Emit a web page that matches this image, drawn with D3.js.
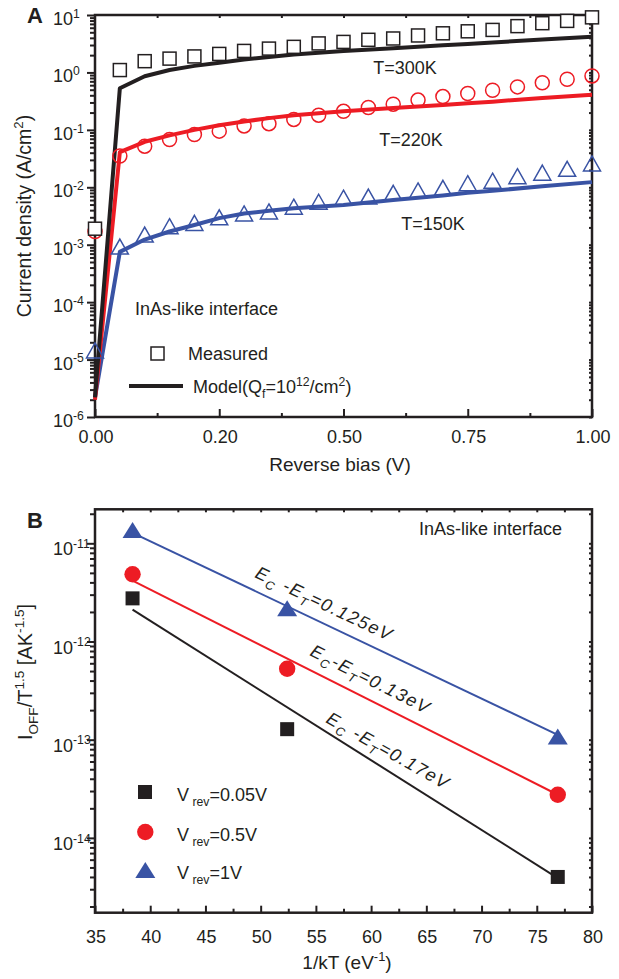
<!DOCTYPE html>
<html><head><meta charset="utf-8">
<script src="https://cdn.jsdelivr.net/npm/d3@7"></script>
<style>
body{margin:0;background:#fff}
text{font-family:"Liberation Sans",Arial,Helvetica,sans-serif;fill:#231f20}
</style>
</head><body><script>
// ---------- Panel A data ----------
const biasV = [0,0.05,0.1,0.15,0.2,0.25,0.3,0.35,0.4,0.45,0.5,0.55,0.6,0.65,0.7,0.75,0.8,0.85,0.9,0.95,1.0];
const meas300 = [1.9e-3,1.1,1.57,1.74,1.9,2.1,2.37,2.6,2.79,3.2,3.4,3.7,3.9,4.4,4.8,5.2,5.5,6.4,7.2,7.9,9.1];
const meas220 = [1.7e-3,0.035,0.052,0.068,0.083,0.095,0.117,0.128,0.152,0.18,0.21,0.245,0.28,0.33,0.38,0.43,0.49,0.56,0.66,0.76,0.87];
const meas150 = [1.44e-5,9.3e-4,1.5e-3,2.1e-3,2.4e-3,3.0e-3,3.5e-3,3.8e-3,4.6e-3,5.6e-3,6.6e-3,6.9e-3,8.0e-3,8.8e-3,9.8e-3,0.0118,0.013,0.0156,0.018,0.021,0.026];
const modelV = [0,0.05,0.1,0.15,0.2,0.25,0.3,0.35,0.4,0.5,0.6,0.7,0.75,0.8,0.9,1.0];
const model300 = [2.2e-6,0.53,0.86,1.1,1.3,1.48,1.68,1.85,2.05,2.36,2.64,2.97,3.14,3.33,3.74,4.2];
const model220 = [2e-6,0.041,0.062,0.08,0.1,0.12,0.14,0.16,0.18,0.21,0.24,0.27,0.29,0.31,0.36,0.41];
const model150 = [2.2e-6,7.5e-4,1.23e-3,1.7e-3,2.2e-3,2.9e-3,3.5e-3,3.9e-3,4.3e-3,4.9e-3,6.0e-3,7.2e-3,8.0e-3,8.7e-3,0.0104,0.0123];
const tickValsXA = [0,0.25,0.5,0.75,1.0];
const tickLabelsXA = ["0.00","0.20","0.50","0.75","1.00"];
const tickExpYA = [1,0,-1,-2,-3,-4,-5,-6];
const tempLabels = ["T=300K","T=220K","T=150K"];

// ---------- Panel B data ----------
const invKT = [38.4,52.4,76.9];
const offV005 = [2.75e-12,1.28e-13,4.0e-15];
const offV05 = [4.84e-12,5.27e-13,2.75e-14];
const offV1 = [1.37e-11,2.18e-12,1.08e-13];
const fitX = [38.4,76.9];
const fitV005 = [2.11e-12,3.9e-15];
const fitV05 = [4.17e-12,2.75e-14];
const fitV1 = [1.28e-11,1.12e-13];
const tickValsXB = [35,40,45,50,55,60,65,70,75,80];
const tickExpYB = [-11,-12,-13,-14];
const legendB = ["=0.05V","=0.5V","=1V"];
const energyLabels = ["=0.125eV","=0.13eV","=0.17eV"];

const BLACK="#231f20", RED="#ed1c24", BLUE="#3953a4";

const svg = d3.select("body").append("svg").attr("width",619).attr("height",979);

function rich(sel, parts, size){
  let cur = 0;
  parts.forEach(([t,m])=>{
    const target = m==="sup" ? -0.4*size : m==="sub" ? 0.28*size : 0;
    sel.append("tspan").attr("dy", target-cur)
      .attr("font-size", m==="n" ? size : size*0.68).text(t);
    cur = target;
  });
  return sel;
}
function triPath(w,h){ return `M0,${-h/2}L${w/2},${h/2}L${-w/2},${h/2}Z`; }

// ================= PANEL A =================
const xA = d3.scaleLinear().domain([0,1]).range([95,592]);
const yA = d3.scaleLog().domain([1e-6,10]).range([417,15]);
const gA = svg.append("g");

const minorA = [];
for(let e=-6;e<1;e++) for(let k=2;k<10;k++) minorA.push(k*Math.pow(10,e));
const majorA = tickExpYA.map(e=>Math.pow(10,e));

gA.append("g").attr("transform","translate(95,0)")
  .call(d3.axisLeft(yA).tickValues(majorA).tickSize(8).tickFormat(""))
  .call(g=>g.select(".domain").remove());
gA.append("g").attr("transform","translate(95,0)")
  .call(d3.axisLeft(yA).tickValues(minorA).tickSize(5).tickFormat(""))
  .call(g=>g.select(".domain").remove());
gA.append("g").attr("transform","translate(592,0)")
  .call(d3.axisRight(yA).tickValues(majorA.concat(minorA)).tickSize(-3).tickFormat(""))
  .call(g=>g.select(".domain").remove());
gA.append("g").attr("transform","translate(0,417)")
  .call(d3.axisBottom(xA).tickValues(tickValsXA).tickSize(-8).tickFormat(""))
  .call(g=>g.select(".domain").remove());
gA.append("g").attr("transform","translate(0,417)")
  .call(d3.axisBottom(xA).tickValues([0.125,0.375,0.625,0.875]).tickSize(-4).tickFormat(""))
  .call(g=>g.select(".domain").remove());
gA.append("g").attr("transform","translate(0,15)")
  .call(d3.axisTop(xA).tickValues([0.125,0.25,0.375,0.5,0.625,0.75,0.875]).tickSize(-3).tickFormat(""))
  .call(g=>g.select(".domain").remove());
gA.selectAll(".tick line").attr("stroke",BLACK).attr("stroke-width",2);

gA.append("rect").attr("x",95).attr("y",15).attr("width",497).attr("height",402)
  .attr("fill","none").attr("stroke",BLACK).attr("stroke-width",2.5);

tickExpYA.forEach(e=>{
  const t = gA.append("text").attr("x",53).attr("y",yA(Math.pow(10,e))+10);
  rich(t,[["10","n"],[String(e),"sup"]],18);
});
tickValsXA.forEach((v,i)=>{
  gA.append("text").attr("x",xA(v)+1).attr("y",443).attr("text-anchor","middle")
    .attr("font-size",18).text(tickLabelsXA[i]);
});
gA.append("text").attr("x",340).attr("y",471).attr("text-anchor","middle")
  .attr("font-size",19).text("Reverse bias (V)");
rich(gA.append("text").attr("transform","translate(31,216) rotate(-90)").attr("text-anchor","middle"),
  [["Current density (A/cm","n"],["2","sup"],[")","n"]],19.5);
gA.append("text").attr("x",27).attr("y",23).attr("font-size",22).attr("font-weight","bold").text("A");

const lineA = d3.line().x(d=>xA(d[0])).y(d=>yA(d[1]));
[[model150,BLUE],[model220,RED],[model300,BLACK]].forEach(([arr,c])=>{
  gA.append("path").datum(modelV.map((v,i)=>[v,arr[i]])).attr("d",lineA)
    .attr("fill","none").attr("stroke",c).attr("stroke-width",4).attr("stroke-linejoin","round");
});
gA.append("g").selectAll("path").data(biasV.map((v,i)=>[v,meas150[i]])).join("path")
  .attr("d",triPath(17,15)).attr("transform",d=>`translate(${xA(d[0])},${yA(d[1])})`)
  .attr("fill","none").attr("stroke",BLUE).attr("stroke-width",1.5);
gA.append("g").selectAll("circle").data(biasV.map((v,i)=>[v,meas220[i]])).join("circle")
  .attr("cx",d=>xA(d[0])).attr("cy",d=>yA(d[1])).attr("r",7)
  .attr("fill","none").attr("stroke",RED).attr("stroke-width",1.5);
gA.append("g").selectAll("rect").data(biasV.map((v,i)=>[v,meas300[i]])).join("rect")
  .attr("x",d=>xA(d[0])-6.5).attr("y",d=>yA(d[1])-6.5).attr("width",13).attr("height",13)
  .attr("fill","#fff").attr("stroke",BLACK).attr("stroke-width",1.5);

[[405,74],[411,146],[433,230]].forEach((p,i)=>{
  gA.append("text").attr("x",p[0]).attr("y",p[1]).attr("text-anchor","middle")
    .attr("font-size",18).text(tempLabels[i]);
});
gA.append("text").attr("x",135).attr("y",315).attr("font-size",18).text("InAs-like interface");
gA.append("rect").attr("x",151).attr("y",347).attr("width",13).attr("height",13)
  .attr("fill","#fff").attr("stroke",BLACK).attr("stroke-width",1.5);
gA.append("text").attr("x",188).attr("y",360).attr("font-size",18).text("Measured");
gA.append("line").attr("x1",129).attr("x2",183).attr("y1",386).attr("y2",386)
  .attr("stroke",BLACK).attr("stroke-width",4);
rich(gA.append("text").attr("x",193).attr("y",393),
  [["Model(Q","n"],["f","sub"],["=10","n"],["12","sup"],["/cm","n"],["2","sup"],[")","n"]],18);

// ================= PANEL B =================
const xB = d3.scaleLinear().domain([35,80]).range([95,592]);
const yB = d3.scaleLog().domain([1.73e-15,2.22e-11]).range([912.7,509.3]);
const gB = svg.append("g");
const majorB = tickExpYB.map(e=>Math.pow(10,e));
const minorB = [];
for(let e=-15;e<-10;e++) for(let k=2;k<10;k++){ const v=k*Math.pow(10,e); if(v>1.73e-15 && v<2.22e-11) minorB.push(v); }

gB.append("g").attr("transform","translate(95,0)")
  .call(d3.axisLeft(yB).tickValues(majorB).tickSize(8).tickFormat(""))
  .call(g=>g.select(".domain").remove());
gB.append("g").attr("transform","translate(95,0)")
  .call(d3.axisLeft(yB).tickValues(minorB).tickSize(5).tickFormat(""))
  .call(g=>g.select(".domain").remove());
gB.append("g").attr("transform","translate(592,0)")
  .call(d3.axisRight(yB).tickValues(majorB.concat(minorB)).tickSize(-3).tickFormat(""))
  .call(g=>g.select(".domain").remove());
gB.append("g").attr("transform","translate(0,912.7)")
  .call(d3.axisBottom(xB).tickValues(tickValsXB).tickSize(-7).tickFormat(""))
  .call(g=>g.select(".domain").remove());
gB.append("g").attr("transform","translate(0,912.7)")
  .call(d3.axisBottom(xB).tickValues(d3.range(37.5,80,5)).tickSize(-4).tickFormat(""))
  .call(g=>g.select(".domain").remove());
gB.append("g").attr("transform","translate(0,509.3)")
  .call(d3.axisTop(xB).tickValues(d3.range(37.5,80,2.5)).tickSize(-3).tickFormat(""))
  .call(g=>g.select(".domain").remove());
gB.selectAll(".tick line").attr("stroke",BLACK).attr("stroke-width",2);
gB.append("rect").attr("x",95).attr("y",509.3).attr("width",497).attr("height",403.4)
  .attr("fill","none").attr("stroke",BLACK).attr("stroke-width",2.5);

tickExpYB.forEach(e=>{
  const t = gB.append("text").attr("x",53).attr("y",yB(Math.pow(10,e))+12);
  rich(t,[["10","n"],[String(e),"sup"]],18);
});
tickValsXB.forEach(v=>{
  gB.append("text").attr("x",xB(v)+1).attr("y",943).attr("text-anchor","middle")
    .attr("font-size",18).text(v);
});
rich(gB.append("text").attr("x",347).attr("y",969).attr("text-anchor","middle"),
  [["1/kT (eV","n"],["-1","sup"],[")","n"]],19);
rich(gB.append("text").attr("transform","translate(32,672) rotate(-90)").attr("text-anchor","middle"),
  [["I","n"],["OFF","sub"],["/T","n"],["1.5","sup"],[" [AK","n"],["-1.5","sup"],["]","n"]],20);
gB.append("text").attr("x",27).attr("y",528).attr("font-size",22).attr("font-weight","bold").text("B");
gB.append("text").attr("x",419).attr("y",535).attr("font-size",18).text("InAs-like interface");

const lineB = d3.line().x(d=>xB(d[0])).y(d=>yB(d[1]));
[[fitV005,BLACK],[fitV05,RED],[fitV1,BLUE]].forEach(([arr,c])=>{
  gB.append("path").datum(fitX.map((v,i)=>[v,arr[i]])).attr("d",lineB)
    .attr("fill","none").attr("stroke",c).attr("stroke-width",2);
});
gB.append("g").selectAll("rect").data(invKT.map((v,i)=>[v,offV005[i]])).join("rect")
  .attr("x",d=>xB(d[0])-7).attr("y",d=>yB(d[1])-7).attr("width",14).attr("height",14).attr("fill",BLACK);
gB.append("g").selectAll("circle").data(invKT.map((v,i)=>[v,offV05[i]])).join("circle")
  .attr("cx",d=>xB(d[0])).attr("cy",d=>yB(d[1])).attr("r",8.2).attr("fill",RED);
gB.append("g").selectAll("path").data(invKT.map((v,i)=>[v,offV1[i]])).join("path")
  .attr("d",triPath(20,16)).attr("transform",d=>`translate(${xB(d[0])},${yB(d[1])})`).attr("fill",BLUE);

[[254,577,25.5," -E"],[309,655,26.8,"-E"],[325,722,29.5," -E"]].forEach((p,i)=>{
  const t = gB.append("text").attr("transform",`translate(${p[0]},${p[1]}) rotate(${p[2]})`)
    .attr("font-style","italic").attr("letter-spacing",1.5);
  rich(t,[["E","n"],["C","sub"],[p[3],"n"],["T","sub"],[energyLabels[i],"n"]],18);
});

gB.append("rect").attr("x",138).attr("y",785).attr("width",14).attr("height",14).attr("fill",BLACK);
gB.append("circle").attr("cx",145.3).attr("cy",832).attr("r",8.2).attr("fill",RED);
gB.append("path").attr("d",triPath(20,16)).attr("transform","translate(145.3,870)").attr("fill",BLUE);
[801,841,879].forEach((y,i)=>{
  rich(gB.append("text").attr("x",177).attr("y",y),[["V","n"],[" rev","sub"],[legendB[i],"n"]],18);
});
</script></body></html>
